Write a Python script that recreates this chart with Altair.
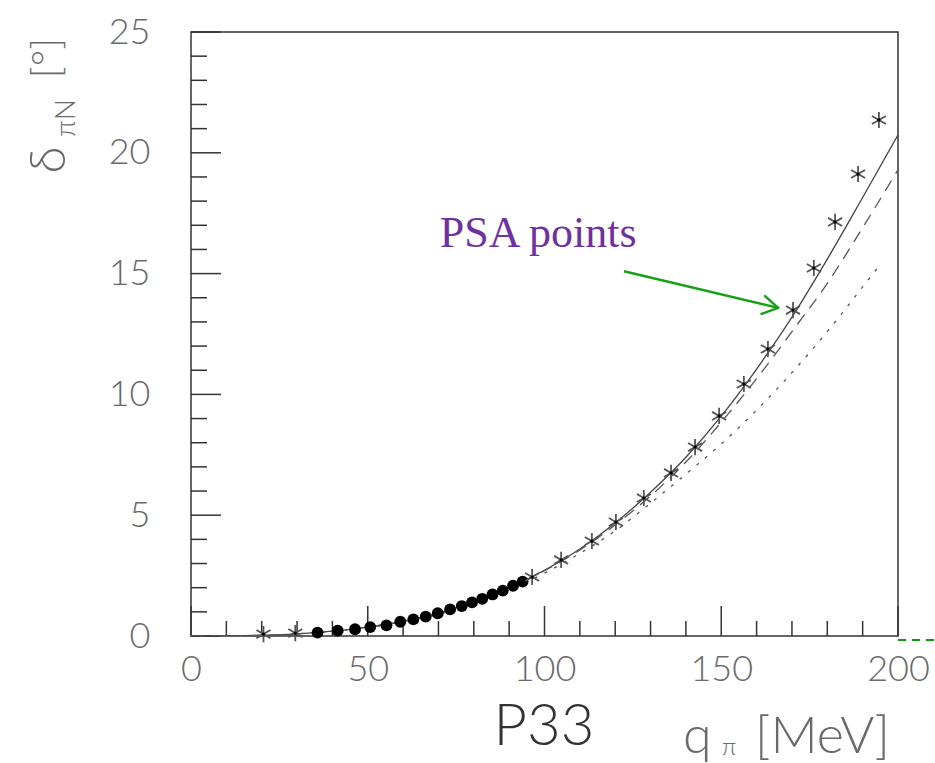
import altair as alt
import pandas as pd

# ---------------- data ----------------
psa_q = [20.5, 29.5, 96.5, 104.7, 113.4, 120.2, 128.1, 135.8, 142.6, 149.4,
         156.4, 163.2, 170.3, 176.2, 182.2, 188.7, 194.6]
psa_delta = [0.08, 0.12, 2.44, 3.15, 3.93, 4.72, 5.71, 6.75, 7.82, 9.11,
             10.43, 11.88, 13.49, 15.23, 17.14, 19.12, 21.36]

dat_q = [35.8, 41.5, 46.4, 50.7, 55.3, 59.2, 62.9, 66.4, 69.8, 73.3, 76.6,
         79.5, 82.4, 85.3, 88.2, 91.1, 93.8]
dat_delta = [0.14, 0.22, 0.28, 0.37, 0.44, 0.59, 0.69, 0.80, 0.94, 1.10, 1.24,
             1.39, 1.54, 1.72, 1.88, 2.08, 2.25]

solid_q = [0, 10, 20, 30, 40, 50, 60, 70, 80, 90, 100, 110, 120, 130, 140,
           150, 160, 170, 180, 190, 200]
solid_delta = [0, 0.005, 0.03, 0.09, 0.2, 0.37, 0.6, 0.95, 1.42, 2.0, 2.72,
               3.6, 4.68, 5.95, 7.4, 9.1, 11.05, 13.2, 15.6, 18.15, 20.74]

dashed_q = [0, 10, 20, 30, 40, 50, 60, 70, 80, 90, 100, 110, 120, 130, 140,
            150, 160, 170, 180, 190, 200]
dashed_delta = [0, 0.005, 0.03, 0.09, 0.2, 0.37, 0.6, 0.95, 1.42, 2.0, 2.7,
                3.56, 4.6, 5.8, 7.2, 8.85, 10.65, 12.6, 14.6, 16.9, 19.3]

dotted_q = [0, 10, 20, 30, 40, 50, 60, 70, 80, 90, 100, 110, 120, 130, 140,
            150, 160, 170, 180, 190, 194]
dotted_delta = [0, 0.005, 0.03, 0.09, 0.19, 0.35, 0.57, 0.9, 1.35, 1.9, 2.6,
                3.42, 4.35, 5.5, 6.7, 7.95, 9.35, 10.9, 12.6, 14.45, 15.2]

x_major_ticks = [0, 50, 100, 150, 200]
x_minor_ticks = [v for v in range(0, 201, 10) if v % 50 != 0]
y_major_ticks = [0, 5, 10, 15, 20, 25]
y_minor_ticks = [v for v in range(0, 26) if v % 5 != 0]

annotation_text = ["PSA points"]
arrow_q = [122.5]
arrow_d = [15.1]
arrow_q2 = [166.1]
arrow_d2 = [13.58]
head_q = [166.1, 166.1]
head_d = [13.58, 13.58]
head_q2 = [162.4, 161.4]
head_d2 = [14.07, 13.33]
green_q = [200]
green_q2 = [215]
green_d = [-0.17]

x_title_main = ["P33"]
x_title_q = ["q"]
x_title_sub = ["π"]
x_title_unit = ["[MeV]"]
y_title_main = ["δ"]
y_title_sub = ["πN"]
y_title_unit = ["[°]"]

# ---------------- chart ----------------
W, H = 707, 604
FONT = "Lato"
GRAY = "#6a6a6a"
FRAME = "#333333"

xs = alt.Scale(domain=[0, 200], nice=False, zero=False)
ys = alt.Scale(domain=[0, 25], nice=False, zero=False)

X = lambda f: alt.X(f, type="quantitative", scale=xs,
                    axis=alt.Axis(values=x_major_ticks, title=None, ticks=False,
                                  domain=False, grid=False, labelPadding=16,
                                  labelFontSize=36, labelColor=GRAY,
                                  labelFont=FONT, labelFontWeight=300,
                                  labelFlush=False))
Y = lambda f: alt.Y(f, type="quantitative", scale=ys,
                    axis=alt.Axis(values=y_major_ticks, title=None, ticks=False,
                                  domain=False, grid=False, labelPadding=41,
                                  labelFontSize=36, labelColor=GRAY,
                                  labelFont=FONT, labelFontWeight=300,
                                  labelFlush=False))

layers = []

# tick marks (inward)
layers.append(alt.Chart(pd.DataFrame({"q": x_minor_ticks})).mark_rule(
    color=FRAME, strokeWidth=1.5).encode(
    x=X("q"), y=alt.value(H), y2=alt.value(H - 15)))
layers.append(alt.Chart(pd.DataFrame({"q": x_major_ticks})).mark_rule(
    color=FRAME, strokeWidth=1.5).encode(
    x=X("q"), y=alt.value(H), y2=alt.value(H - 30)))
layers.append(alt.Chart(pd.DataFrame({"d": y_minor_ticks})).mark_rule(
    color=FRAME, strokeWidth=1.5).encode(
    y=Y("d"), x=alt.value(0), x2=alt.value(16)))
layers.append(alt.Chart(pd.DataFrame({"d": y_major_ticks})).mark_rule(
    color=FRAME, strokeWidth=1.5).encode(
    y=Y("d"), x=alt.value(0), x2=alt.value(30)))

# curves
layers.append(alt.Chart(pd.DataFrame({"q": solid_q, "d": solid_delta})).mark_line(
    color="#444", strokeWidth=1.3, interpolate="monotone", clip=True).encode(
    x=X("q"), y=Y("d")))
layers.append(alt.Chart(pd.DataFrame({"q": dashed_q, "d": dashed_delta})).mark_line(
    color="#555", strokeWidth=1.3, strokeDash=[12, 8], interpolate="monotone",
    clip=True).encode(x=X("q"), y=Y("d")))
layers.append(alt.Chart(pd.DataFrame({"q": dotted_q, "d": dotted_delta})).mark_line(
    color="#555", strokeWidth=1.3, strokeDash=[3, 8], interpolate="monotone",
    clip=True).encode(x=X("q"), y=Y("d")))

# data points
layers.append(alt.Chart(pd.DataFrame({"q": dat_q, "d": dat_delta})).mark_point(
    shape="circle", filled=True, color="black", size=140, opacity=1).encode(
    x=X("q"), y=Y("d")))
star_path = "M0,-1L0,1M-0.87,-0.5L0.87,0.5M-0.87,0.5L0.87,-0.5"
layers.append(alt.Chart(pd.DataFrame({"q": psa_q, "d": psa_delta})).mark_point(
    shape=star_path, filled=False, color="#555", strokeWidth=1.8, size=260,
    opacity=1).encode(x=X("q"), y=Y("d")))
layers.append(alt.Chart(pd.DataFrame({"q": psa_q, "d": psa_delta})).mark_point(
    shape="circle", filled=True, color="black", size=10, opacity=1).encode(
    x=X("q"), y=Y("d")))

# annotation
layers.append(alt.Chart(pd.DataFrame({"t": annotation_text, "q": [98.2], "d": [16.1]})).mark_text(
    font="Liberation Serif", fontSize=44, color="#7030A0", align="center",
    baseline="alphabetic").encode(x=X("q"), y=Y("d"), text="t"))
layers.append(alt.Chart(pd.DataFrame({"q": arrow_q, "d": arrow_d, "q2": arrow_q2, "d2": arrow_d2})).mark_rule(
    color="#17a017", strokeWidth=2.5).encode(
    x=X("q"), y=Y("d"), x2="q2", y2="d2"))
layers.append(alt.Chart(pd.DataFrame({"q": head_q, "d": head_d, "q2": head_q2, "d2": head_d2})).mark_rule(
    color="#17a017", strokeWidth=2.5, strokeCap="round").encode(
    x=X("q"), y=Y("d"), x2="q2", y2="d2"))
layers.append(alt.Chart(pd.DataFrame({"q": green_q, "q2": green_q2, "d": green_d})).mark_rule(
    color="#119911", strokeWidth=2, strokeDash=[8, 6], clip=False).encode(
    x=X("q"), x2="q2", y=Y("d")))

# axis titles
def txt(t, x, y, size, align="left", angle=0, color=GRAY, weight=300):
    kw = dict(font=FONT, fontSize=size, color=color, align=align,
              baseline="alphabetic", fontWeight=weight)
    if angle:
        kw["angle"] = angle
    return alt.Chart(pd.DataFrame({"t": t})).mark_text(**kw).encode(
        x=alt.value(x), y=alt.value(y), text="t")

layers.append(txt(x_title_main, 353, 713, 58, align="center", color="#333"))
layers.append(txt(x_title_q, 492, 721, 52))
layers.append(txt(x_title_sub, 531, 723, 24))
layers.append(txt(x_title_unit, 564, 721, 52))
layers.append(txt(y_title_main, -126, 128, 50, align="center", angle=270))
layers.append(txt(y_title_sub, -116, 86, 28, align="center", angle=270))
layers.append(txt(y_title_unit, -131, 26, 40, align="center", angle=270))

chart = alt.layer(*layers).properties(
    width=W, height=H,
    autosize=alt.AutoSizeParams(type="none"),
    padding={"left": 191, "top": 32, "right": 37, "bottom": 127},
).configure(background="white").configure_view(stroke=FRAME, strokeWidth=1.5)

chart.save("out.html", embed_options={"renderer": "svg", "actions": False})
